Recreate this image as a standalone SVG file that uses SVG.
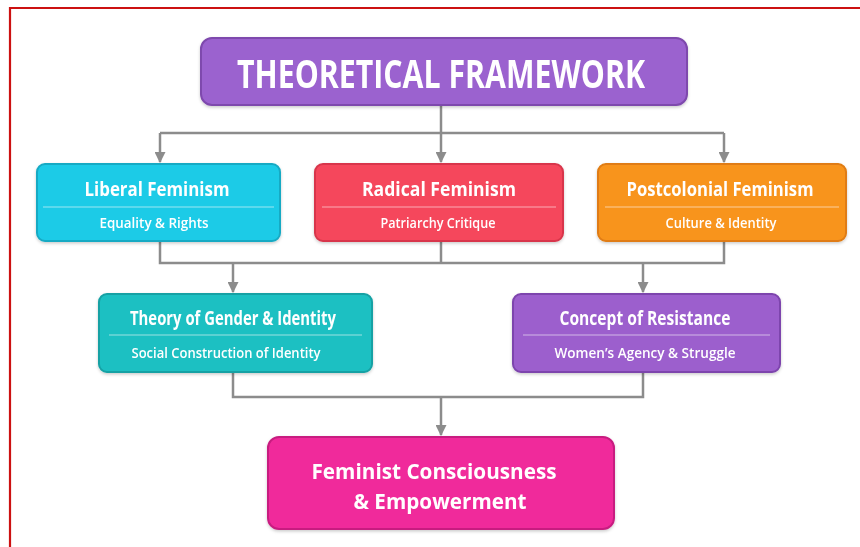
<svg xmlns="http://www.w3.org/2000/svg" width="860" height="547" viewBox="0 0 860 547">
<defs>
<style>
.box{stroke-width:2;}
.t{font-family:"Open Sans","Liberation Sans",sans-serif;font-weight:700;fill:#ffffff;text-anchor:middle;}
.h{font-size:19px;}
.s{font-size:15px;font-weight:600;}
.div{stroke:#ffffff;stroke-opacity:0.55;stroke-width:1.2;}
.con{fill:none;stroke:#8c8c8c;stroke-width:2.5;}
</style>
<marker id="arr" viewBox="0 0 10 10" refX="9" refY="5" markerWidth="4.4" markerHeight="4.4" orient="auto" markerUnits="strokeWidth">
<path d="M0,0 L10,5 L0,10 z" fill="#8c8c8c"/>
</marker>
<filter id="sh" x="-5%" y="-10%" width="110%" height="130%">
<feDropShadow dx="0" dy="1.5" stdDeviation="1.5" flood-color="#000" flood-opacity="0.2"/>
</filter>
</defs>
<rect width="860" height="547" fill="#ffffff"/>
<path d="M10,547 L10,8 L860,8" fill="none" stroke="#cc1111" stroke-width="2.2"/>

<g id="connectors">
<path class="con" d="M441,106 V133"/>
<path class="con" d="M160,133 H724"/>
<path class="con" d="M160,133 V162" marker-end="url(#arr)"/>
<path class="con" d="M441,133 V162" marker-end="url(#arr)"/>
<path class="con" d="M724,133 V162" marker-end="url(#arr)"/>
<path class="con" d="M160,242 V263 H724 V242"/>
<path class="con" d="M441,242 V263"/>
<path class="con" d="M233,263 V292" marker-end="url(#arr)"/>
<path class="con" d="M643,263 V292" marker-end="url(#arr)"/>
<path class="con" d="M233,373 V397 H643 V373"/>
<path class="con" d="M441,397 V435" marker-end="url(#arr)"/>
</g>

<g id="title" filter="url(#sh)">
<rect class="box" x="201" y="38" width="486" height="67" rx="11" fill="#9b62cf" stroke="#7e48ad"/>
<text class="t" x="441" y="88" font-size="40" textLength="408" lengthAdjust="spacingAndGlyphs">THEORETICAL FRAMEWORK</text>
</g>

<g id="liberal" filter="url(#sh)">
<rect class="box" x="37" y="164" width="243" height="77" rx="8" fill="#1fcbe7" stroke="#16aac4"/>
<line class="div" x1="43" y1="207" x2="274" y2="207"/>
<text class="t h" x="157" y="196" textLength="145" lengthAdjust="spacingAndGlyphs">Liberal Feminism</text>
<text class="t s" x="154" y="228" textLength="109" lengthAdjust="spacingAndGlyphs">Equality &amp; Rights</text>
</g>

<g id="radical" filter="url(#sh)">
<rect class="box" x="315" y="164" width="248" height="77" rx="8" fill="#f5475b" stroke="#d8364b"/>
<line class="div" x1="322" y1="207" x2="556" y2="207"/>
<text class="t h" x="439" y="196" textLength="154" lengthAdjust="spacingAndGlyphs">Radical Feminism</text>
<text class="t s" x="438" y="228" textLength="115" lengthAdjust="spacingAndGlyphs">Patriarchy Critique</text>
</g>

<g id="postcolonial" filter="url(#sh)">
<rect class="box" x="598" y="164" width="248" height="77" rx="8" fill="#f8941e" stroke="#e07c12"/>
<line class="div" x1="605" y1="207" x2="839" y2="207"/>
<text class="t h" x="720" y="196" textLength="187" lengthAdjust="spacingAndGlyphs">Postcolonial Feminism</text>
<text class="t s" x="721" y="228" textLength="111" lengthAdjust="spacingAndGlyphs">Culture &amp; Identity</text>
</g>

<g id="gender" filter="url(#sh)">
<rect class="box" x="99" y="294" width="273" height="78" rx="8" fill="#1ec0c2" stroke="#14a1a4"/>
<line class="div" x1="109" y1="335" x2="362" y2="335"/>
<text class="t h" x="233" y="325" textLength="206" lengthAdjust="spacingAndGlyphs">Theory of Gender &amp; Identity</text>
<text class="t s" x="226" y="358" textLength="189" lengthAdjust="spacingAndGlyphs">Social Construction of Identity</text>
</g>

<g id="resistance" filter="url(#sh)">
<rect class="box" x="513" y="294" width="267" height="78" rx="8" fill="#9c5fcd" stroke="#7d44ad"/>
<line class="div" x1="523" y1="335" x2="770" y2="335"/>
<text class="t h" x="645" y="325" textLength="171" lengthAdjust="spacingAndGlyphs">Concept of Resistance</text>
<text class="t s" x="645" y="358" textLength="181" lengthAdjust="spacingAndGlyphs">Women’s Agency &amp; Struggle</text>
</g>

<g id="empowerment" filter="url(#sh)">
<rect class="box" x="268" y="437" width="346" height="92" rx="11" fill="#f02a9b" stroke="#c81e80"/>
<text class="t" x="434" y="479" font-size="22" textLength="245" lengthAdjust="spacingAndGlyphs">Feminist Consciousness</text>
<text class="t" x="440" y="509" font-size="22" textLength="173" lengthAdjust="spacingAndGlyphs">&amp; Empowerment</text>
</g>
</svg>
